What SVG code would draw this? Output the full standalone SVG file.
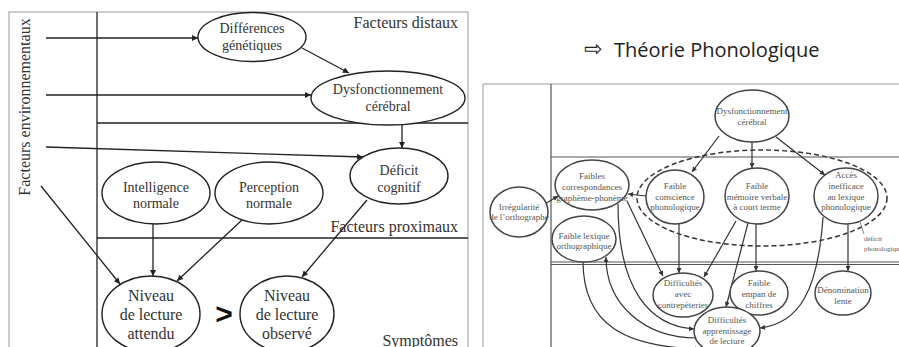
<svg xmlns="http://www.w3.org/2000/svg" width="899" height="347" viewBox="0 0 899 347">
<style>
.frame{fill:none;stroke:#999;stroke-width:1}
.ln{fill:none;stroke:#222;stroke-width:1.3}
.rl{fill:none;stroke:#555;stroke-width:1.2}
.nd{fill:#fff;stroke:#222;stroke-width:1.4}
.rn{fill:#fff;stroke:#444;stroke-width:1.5}
.t{font-family:"Liberation Serif","Times New Roman",serif;fill:#333;text-anchor:middle}
.t14{font-size:14px}
.t16{font-size:16px}
.lab{font-family:"Liberation Serif","Times New Roman",serif;fill:#333;font-size:16px;text-anchor:end}
.rt{font-family:"Liberation Serif","Times New Roman",serif;fill:#555;font-size:9px;text-anchor:middle}
.la{fill:none;stroke:#222;stroke-width:1.3;marker-end:url(#ah)}
.ra{fill:none;stroke:#333;stroke-width:1.2;marker-end:url(#rh)}
</style>
<defs>
<marker id="ah" viewBox="0 0 10 10" refX="10" refY="5" markerWidth="8" markerHeight="6" orient="auto" markerUnits="userSpaceOnUse"><path d="M0,0 L10,5 L0,10 z" fill="#222"/></marker>
<marker id="rh" viewBox="0 0 10 10" refX="10" refY="5" markerWidth="6" markerHeight="5" orient="auto" markerUnits="userSpaceOnUse"><path d="M0,0 L10,5 L0,10 z" fill="#333"/></marker>
</defs>

<!-- LEFT DIAGRAM -->
<g id="left-frame">
<rect class="frame" x="9" y="12" width="459" height="345"/>
<line class="ln" x1="97" y1="12" x2="97" y2="347"/>
<line class="ln" x1="97" y1="123" x2="468" y2="123"/>
<line class="ln" x1="97" y1="238" x2="468" y2="238"/>
<text class="t t16" transform="translate(30,107) rotate(-90)">Facteurs environnementaux</text>
<text class="lab" x="458" y="28">Facteurs distaux</text>
<text class="lab" x="458" y="232">Facteurs proximaux</text>
<text class="lab" x="458" y="346">Symptômes</text>
</g>

<g id="left-connectors">
<path class="la" d="M46,38 H198"/>
<path class="la" d="M46,95 H311"/>
<path class="la" d="M46,147 L363,157"/>
<path class="la" d="M41,186 L120,284"/>
<path class="la" d="M302,48 L349,73"/>
<path class="la" d="M402,125 L402,148"/>
<path class="la" d="M153,224 L153,276"/>
<path class="la" d="M242,220 L177,281"/>
<path class="la" d="M367,200 L302,277"/>
</g>

<g id="n-differences">
<ellipse class="nd" cx="252" cy="37" rx="54" ry="24.5"/>
<text class="t t14" x="252" y="33">Différences</text>
<text class="t t14" x="252" y="50">génétiques</text>
</g>
<g id="n-dysfonctionnement">
<ellipse class="nd" cx="388" cy="98" rx="77" ry="27"/>
<text class="t t14" x="388" y="94">Dysfonctionnement</text>
<text class="t t14" x="388" y="111">cérébral</text>
</g>
<g id="n-deficit">
<ellipse class="nd" cx="399" cy="176" rx="49" ry="28"/>
<text class="t t14" x="399" y="175">Déficit</text>
<text class="t t14" x="399" y="192">cognitif</text>
</g>
<g id="n-intelligence">
<ellipse class="nd" cx="156" cy="193" rx="54" ry="31"/>
<text class="t t14" x="156" y="192">Intelligence</text>
<text class="t t14" x="156" y="208">normale</text>
</g>
<g id="n-perception">
<ellipse class="nd" cx="269" cy="193" rx="54" ry="31"/>
<text class="t t14" x="269" y="192">Perception</text>
<text class="t t14" x="269" y="208">normale</text>
</g>
<g id="n-attendu">
<ellipse class="nd" cx="151" cy="314" rx="49" ry="38"/>
<text class="t t16" x="151" y="301">Niveau</text>
<text class="t t16" x="151" y="320">de lecture</text>
<text class="t t16" x="151" y="339">attendu</text>
</g>
<g id="n-observe">
<ellipse class="nd" cx="287" cy="314" rx="47" ry="38"/>
<text class="t t16" x="287" y="301">Niveau</text>
<text class="t t16" x="287" y="320">de lecture</text>
<text class="t t16" x="287" y="339">observé</text>
</g>
<text x="224" y="324" font-family="Liberation Sans, Arial, sans-serif" font-size="30" font-weight="bold" fill="#111" text-anchor="middle">&gt;</text>

<!-- RIGHT DIAGRAM -->
<g id="title">
<text x="584" y="56" font-family="DejaVu Sans, sans-serif" font-size="22" fill="#222">⇨</text>
<text x="614" y="57" font-family="Open Sans, Noto Sans, sans-serif" font-size="20" fill="#222">Théorie Phonologique</text>
</g>

<g id="right-frame">
<line class="frame" x1="483" y1="84" x2="899" y2="84"/>
<line class="frame" x1="483" y1="84" x2="483" y2="347"/>
<line class="rl" x1="551" y1="84" x2="551" y2="347"/>
<line class="rl" x1="551" y1="157" x2="899" y2="157"/>
<line class="rl" x1="551" y1="262" x2="899" y2="262"/>
<line class="rl" x1="551" y1="264.5" x2="899" y2="264.5" stroke-width="0.8"/>
</g>

<g id="deficit-phonologique">
<ellipse cx="762" cy="198" rx="125" ry="48" fill="none" stroke="#333" stroke-width="1.5" stroke-dasharray="5,3"/>
<line x1="860" y1="222" x2="864" y2="234" stroke="#666" stroke-width="0.8"/>
<text x="864" y="241" font-family="Liberation Serif, serif" font-size="7" fill="#555">déficit</text>
<text x="864" y="251" font-family="Liberation Serif, serif" font-size="7" fill="#555">phonologique</text>
</g>

<g id="right-connectors">
<path class="ra" d="M719,136 L692,172"/>
<path class="ra" d="M752,142 L752,168"/>
<path class="ra" d="M776,137 L825,175"/>
<path class="ra" d="M646,196 L628,194"/>
<path class="ra" d="M545,204 L558,196"/>
<path class="ra" d="M627,201 L663,276"/>
<path class="ra" d="M679,224 L679,273"/>
<path class="ra" d="M736,221 L704,277"/>
<path class="ra" d="M748,223 L726,307"/>
<path class="ra" d="M756,224 L756,271"/>
<path class="ra" d="M848,224 L848,271"/>
<path class="ra" d="M823,217 C818,290 800,323 760,328"/>
<path class="ra" d="M618,204 C618,290 650,326 694,329"/>
<path class="ra" d="M697,338 C645,338 606,305 606,257"/>
<path class="ra" d="M583,261 C583,325 625,347 700,349"/>
</g>

<g id="r-dysfonctionnement">
<ellipse class="rn" cx="752" cy="116" rx="37" ry="26"/>
<text class="rt" x="752" y="114">Dysfonctionnement</text>
<text class="rt" x="752" y="125">cérébral</text>
</g>
<g id="r-correspondances">
<ellipse class="rn" cx="592" cy="185" rx="37" ry="25"/>
<text class="rt" x="592" y="179">Faibles</text>
<text class="rt" x="592" y="190">correspondances</text>
<text class="rt" x="592" y="201">graphème-phonème</text>
</g>
<g id="r-irregularite">
<ellipse class="rn" cx="519" cy="212" rx="29" ry="25"/>
<text class="rt" x="519" y="210">Irrégularité</text>
<text class="rt" x="519" y="220">de l’orthographe</text>
</g>
<g id="r-lexique">
<ellipse class="rn" cx="584" cy="239" rx="32" ry="23"/>
<text class="rt" x="584" y="239">Faible lexique</text>
<text class="rt" x="584" y="249">orthographique</text>
</g>
<g id="r-conscience">
<ellipse class="rn" cx="675" cy="197" rx="29" ry="27"/>
<text class="rt" x="675" y="189">Faible</text>
<text class="rt" x="675" y="200">conscience</text>
<text class="rt" x="675" y="210">phonologique</text>
</g>
<g id="r-memoire">
<ellipse class="rn" cx="757" cy="196" rx="32" ry="28"/>
<text class="rt" x="757" y="189">Faible</text>
<text class="rt" x="757" y="200">mémoire verbale</text>
<text class="rt" x="757" y="210">à court terme</text>
</g>
<g id="r-acces">
<ellipse class="rn" cx="846" cy="196" rx="32" ry="28"/>
<text class="rt" x="846" y="178">Accès</text>
<text class="rt" x="846" y="189">inefficace</text>
<text class="rt" x="846" y="200">au lexique</text>
<text class="rt" x="846" y="210">phonologique</text>
</g>
<g id="r-contrepeteries">
<ellipse class="rn" cx="683" cy="295" rx="30" ry="22"/>
<text class="rt" x="683" y="286">Difficultés</text>
<text class="rt" x="683" y="297">avec</text>
<text class="rt" x="683" y="308">contrepèteries</text>
</g>
<g id="r-empan">
<ellipse class="rn" cx="759" cy="293" rx="29" ry="22"/>
<text class="rt" x="759" y="286">Faible</text>
<text class="rt" x="759" y="297">empan de</text>
<text class="rt" x="759" y="308">chiffres</text>
</g>
<g id="r-denomination">
<ellipse class="rn" cx="843" cy="293" rx="28" ry="22"/>
<text class="rt" x="843" y="293">Dénomination</text>
<text class="rt" x="843" y="304">lente</text>
</g>
<g id="r-apprentissage">
<ellipse class="rn" cx="727" cy="331" rx="33" ry="24"/>
<text class="rt" x="727" y="323">Difficultés</text>
<text class="rt" x="727" y="334">apprentissage</text>
<text class="rt" x="727" y="344">de lecture</text>
</g>
</svg>
